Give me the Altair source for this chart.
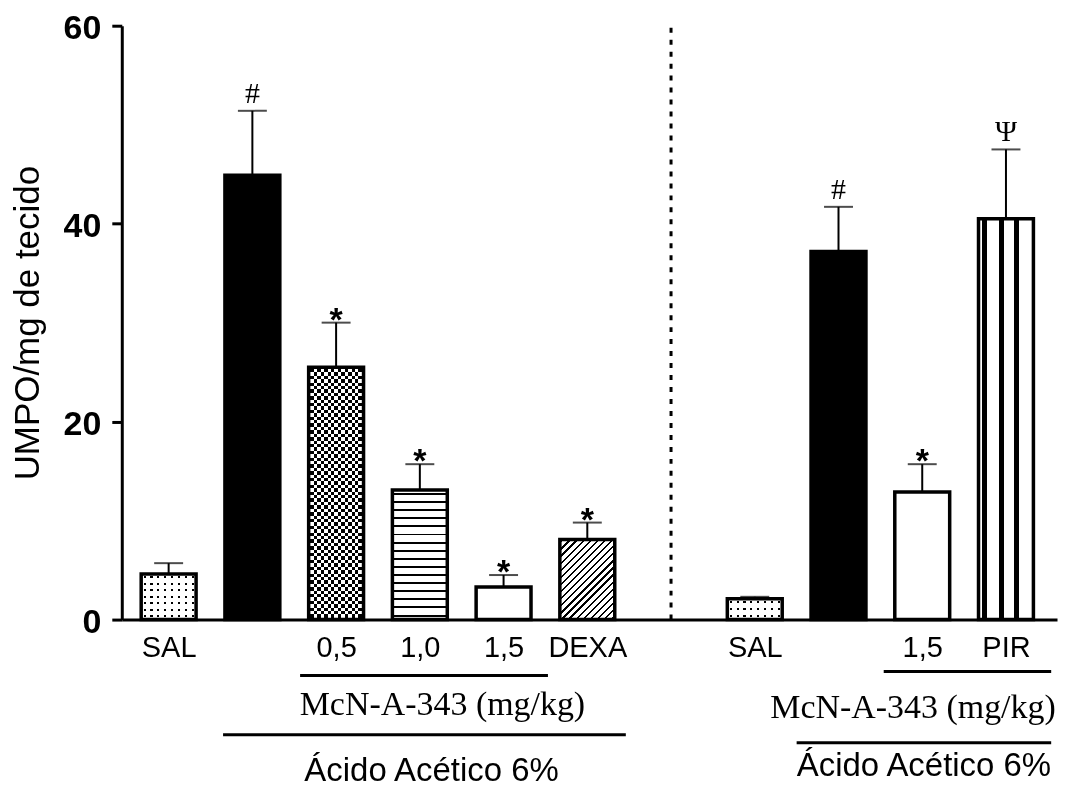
import altair as alt
import pandas as pd

# ---------------- data ----------------
slots = [0, 1, 2, 3, 4, 5, 7, 8, 9, 10]
labels = ["SAL", "", "0,5", "1,0", "1,5", "DEXA", "SAL", "", "1,5", "PIR"]
means = [4.6, 44.9, 25.5, 13.1, 3.3, 8.1, 2.1, 37.2, 12.9, 40.5]
sems = [1.1, 6.5, 4.5, 2.6, 1.2, 1.7, 0.2, 4.5, 2.8, 7.0]
signif = ["", "#", "*", "*", "*", "*", "", "#", "*", "Ψ"]
patterns = ["dots", "solid", "checker", "hlines", "open", "diag", "dots", "solid", "open", "vlines"]

separator_slot = [6]

group_texts = ["McN-A-343 (mg/kg)", "Ácido Acético 6%", "McN-A-343 (mg/kg)", "Ácido Acético 6%"]
group_from = [1.57, 0.65, 8.54, 7.5]
group_to = [4.53, 5.46, 10.54, 10.54]
group_text_at = [3.27, 3.14, 8.89, 9.02]

# ---------------- layout ----------------
W, H = 937, 595
YMAX = 60
BAR_W = 55
x_scale = alt.Scale(domain=[-0.5, 10.55], nice=False, zero=False)
y_scale = alt.Scale(domain=[0, YMAX], nice=False)

df = pd.DataFrame({
    "slot": slots, "label": labels, "mean": means, "sem": sems,
    "sig": signif, "pattern": patterns, "idx": list(range(len(slots))),
})
df["upper"] = df["mean"] + df["sem"]

label_arr = [""] * 11
for s, l in zip(slots, labels):
    label_arr[s] = l
label_expr = "[" + ",".join("'" + l + "'" for l in label_arr) + "][datum.value]"

x_axis = alt.Axis(
    title=None, values=[s for s, l in zip(slots, labels) if l], labelExpr=label_expr,
    ticks=False, tickSize=0, domainWidth=3, domainColor="black",
    labelFont="Liberation Sans", labelFontSize=29, labelColor="black",
    labelBaseline="alphabetic", labelPadding=37, labelOverlap=False,
    labelFlush=False, labelBound=False, grid=False,
)
y_axis = alt.Axis(
    title="UMPO/mg de tecido", values=[0, 20, 40, 60], format="d",
    tickSize=10, tickWidth=3, tickColor="black", domainWidth=3, domainColor="black",
    labelFont="Liberation Sans", labelFontWeight="bold", labelFontSize=34,
    labelColor="black", labelPadding=11, labelBaseline="middle", labelOffset=3,
    titleFont="Liberation Sans", titleFontSize=35, titleFontWeight="normal",
    titleColor="black", titleX=-76, titleY=H / 2, titleAngle=270,
    titleBaseline="bottom", titleAlign="center", grid=False,
)


def X(field="slot:Q"):
    return alt.X(field, scale=x_scale, axis=x_axis)


def Y(field):
    return alt.Y(field, scale=y_scale, axis=y_axis)


def stripes(n, duty, along):
    """hard-edged black bands on white; along='x' -> vertical bands"""
    n = max(int(n), 1)
    phase = (1 - duty) / 2
    stops = [{"offset": 0, "color": "white"}]
    for i in range(n):
        a = (i + phase) / n
        b = (i + phase + duty) / n
        stops += [
            {"offset": a, "color": "white"}, {"offset": a, "color": "black"},
            {"offset": b, "color": "black"}, {"offset": b, "color": "white"},
        ]
    stops.append({"offset": 1, "color": "white"})
    g = {"gradient": "linear", "stops": stops, "x1": 0, "y1": 0}
    if along == "x":
        g.update({"x2": 1, "y2": 0})
    else:
        g.update({"x2": 0, "y2": 1})
    return g


def diag(n, duty, w, h):
    r = w / h
    k = (r + 1) / (r * r + 1)
    g = stripes(n, duty, "x")
    g.update({"x1": 0, "y1": 0, "x2": k * r, "y2": k})
    return g


def bars(flt, **kw):
    return alt.Chart(df).transform_filter(flt).mark_bar(size=BAR_W, **kw).encode(
        x=X(), y=Y("mean:Q")
    )


layers = []
px_per_unit = H / YMAX
for i, p in enumerate(patterns):
    flt = f"datum.idx == {i}"
    h = means[i] * px_per_unit
    if p == "solid":
        layers.append(bars(flt, fill="black"))
    elif p == "open":
        layers.append(bars(flt, fill="white"))
    elif p == "dots":
        layers.append(bars(flt, fill=stripes(8, 0.32, "x")))
        layers.append(bars(flt, fill=stripes(round(h / 7), 0.32, "y"), blend="lighten"))
    elif p == "checker":
        layers.append(bars(flt, fill=stripes(8, 0.5, "x")))
        layers.append(bars(flt, fill=stripes(round(h / 6.9), 0.5, "y"), blend="difference"))
    elif p == "hlines":
        layers.append(bars(flt, fill=stripes(round(h / 8), 0.24, "y")))
    elif p == "diag":
        n = round((BAR_W + h) / 1.414 / 5)
        layers.append(bars(flt, fill=diag(n, 0.32, BAR_W, h)))
    elif p == "vlines":
        layers.append(bars(flt, fill={
            "gradient": "linear", "x1": 0, "y1": 0, "x2": 1, "y2": 0,
            "stops": [
                {"offset": 0, "color": "white"},
                {"offset": 0.07, "color": "white"}, {"offset": 0.07, "color": "black"},
                {"offset": 0.16, "color": "black"}, {"offset": 0.16, "color": "white"},
                {"offset": 0.37, "color": "white"}, {"offset": 0.37, "color": "black"},
                {"offset": 0.46, "color": "black"}, {"offset": 0.46, "color": "white"},
                {"offset": 0.65, "color": "white"}, {"offset": 0.65, "color": "black"},
                {"offset": 0.74, "color": "black"}, {"offset": 0.74, "color": "white"},
                {"offset": 1, "color": "white"},
            ],
        }))

# outlines
layers.append(bars("true", fill="white", fillOpacity=0, stroke="black", strokeWidth=3.5))

# error bars (upper only)
layers.append(
    alt.Chart(df).mark_rule(color="black", strokeWidth=2).encode(
        x=X(), y=Y("mean:Q"), y2="upper:Q"
    )
)
layers.append(
    alt.Chart(df).mark_tick(orient="horizontal", size=29, thickness=2, color="black").encode(
        x=X(), y=Y("upper:Q")
    )
)

# significance symbols
layers.append(
    alt.Chart(df).transform_filter("datum.sig == '#' || datum.sig == 'Ψ'").mark_text(
        font="Liberation Serif", fontSize=30, baseline="alphabetic", dy=-8, color="black"
    ).encode(x=X(), y=Y("upper:Q"), text="sig:N")
)
layers.append(
    alt.Chart(df).transform_filter("datum.sig == '*'").mark_text(
        font="Liberation Sans", fontWeight="bold", fontSize=34, baseline="alphabetic",
        dy=8, color="black"
    ).encode(x=X(), y=Y("upper:Q"), text="sig:N")
)

# dotted separator
layers.append(
    alt.Chart(pd.DataFrame({"slot": separator_slot})).mark_rule(
        color="black", strokeWidth=3, strokeDash=[5, 7]
    ).encode(x=X(), y=alt.value(H), y2=alt.value(-3))
)

# group brackets under the axis
gdf = pd.DataFrame({
    "text": group_texts, "x0": group_from, "x1": group_to, "xt": group_text_at,
    "gi": list(range(len(group_texts))),
})
line_y = [651, 710.5, 647, 718.5]
text_y = [690.5, 757, 693.5, 752]
for i in range(len(group_texts)):
    serif = group_texts[i].startswith("McN")
    layers.append(
        alt.Chart(gdf).transform_filter(f"datum.gi == {i}").mark_rule(
            color="black", strokeWidth=3
        ).encode(x=X("x0:Q"), x2="x1:Q", y=alt.value(line_y[i]))
    )
    layers.append(
        alt.Chart(gdf).transform_filter(f"datum.gi == {i}").mark_text(
            font="Liberation Serif" if serif else "Liberation Sans",
            fontSize=34 if serif else 33, baseline="alphabetic", align="center",
            color="black",
        ).encode(x=X("xt:Q"), y=alt.value(text_y[i]), text="text:N")
    )

chart = alt.layer(*layers).properties(
    width=W, height=H,
    autosize=alt.AutoSizeParams(type="none"),
    padding={"left": 114, "top": 17, "right": 5, "bottom": 168},
    background="white",
).configure_view(stroke=None)

chart.save("out.html", embed_options={"renderer": "svg", "actions": False})
